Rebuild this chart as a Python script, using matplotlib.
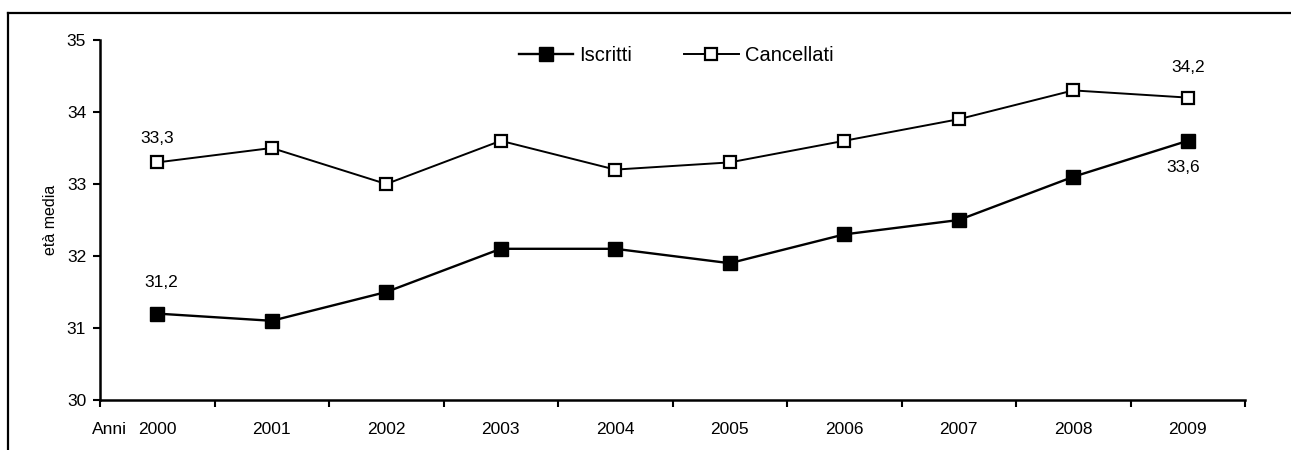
import matplotlib
matplotlib.use("Agg")
import matplotlib.pyplot as plt
from matplotlib.lines import Line2D

years = ['2000', '2001', '2002', '2003', '2004', '2005', '2006', '2007', '2008', '2009']
iscritti = [31.2, 31.1, 31.5, 32.1, 32.1, 31.9, 32.3, 32.5, 33.1, 33.6]
cancellati = [33.3, 33.5, 33.0, 33.6, 33.2, 33.3, 33.6, 33.9, 34.3, 34.2]


def main():
    plt.rcParams['font.family'] = ['Liberation Sans', 'DejaVu Sans']
    fig = plt.figure(figsize=(12.91, 4.5), dpi=100)
    ax = fig.add_axes([100 / 1291, 50 / 450, 1145 / 1291, 360 / 450])

    fs = 12.5
    x = list(range(len(years)))
    ax.plot(x, iscritti, color='black', lw=1.7, marker='s', ms=9.5,
            mfc='black', mec='black', label='Iscritti', clip_on=False)
    ax.plot(x, cancellati, color='black', lw=1.4, marker='s', ms=9,
            mfc='white', mec='black', mew=1.6, label='Cancellati', clip_on=False)

    ax.set_xlim(-0.5, len(years) - 0.5)
    ax.set_ylim(30, 35)
    ax.set_yticks([30, 31, 32, 33, 34, 35])
    ax.set_xticks(x)
    ax.set_xticklabels(years)
    ax.set_xticks([i - 0.5 for i in range(len(years) + 1)], minor=True)
    ax.tick_params(axis='x', which='major', length=0, pad=16, labelsize=fs)
    ax.tick_params(axis='x', which='minor', length=5, width=1.5, direction='out')
    ax.tick_params(axis='y', length=5, width=1.5, labelsize=fs, pad=5)
    for s in ['top', 'right']:
        ax.spines[s].set_visible(False)
    for s in ['left', 'bottom']:
        ax.spines[s].set_linewidth(1.8)
    ax.set_ylabel('età media', fontsize=11.5, labelpad=6)

    # labels at first and last points
    ax.annotate('33,3', (0, cancellati[0]), xytext=(0, 12), textcoords='offset points',
                ha='center', va='bottom', fontsize=fs)
    ax.annotate('31,2', (0, iscritti[0]), xytext=(3, 17), textcoords='offset points',
                ha='center', va='bottom', fontsize=fs)
    ax.annotate('34,2', (9, cancellati[9]), xytext=(0, 16.5), textcoords='offset points',
                ha='center', va='bottom', fontsize=fs)
    ax.annotate('33,6', (9, iscritti[9]), xytext=(-3, -14), textcoords='offset points',
                ha='center', va='top', fontsize=fs)

    ax.annotate('Anni', (-0.007, 0), xycoords='axes fraction', xytext=(0, -16),
                textcoords='offset points', ha='left', va='top', fontsize=fs)

    ax.legend(loc='center', bbox_to_anchor=(0.503, 0.958), ncol=2,
              frameon=False, fontsize=14.5, handlelength=2.7,
              handletextpad=0.3, columnspacing=2.6, borderpad=0)

    # outer frame (top and left edges)
    fig.add_artist(Line2D([8 / 1291, 1], [1 - 13 / 450, 1 - 13 / 450],
                          color='black', lw=1.6, transform=fig.transFigure))
    fig.add_artist(Line2D([8 / 1291, 8 / 1291], [0, 1 - 13 / 450],
                          color='black', lw=1.6, transform=fig.transFigure))

    fig.savefig('out.png', dpi=100)


if __name__ == "__main__":
    main()
